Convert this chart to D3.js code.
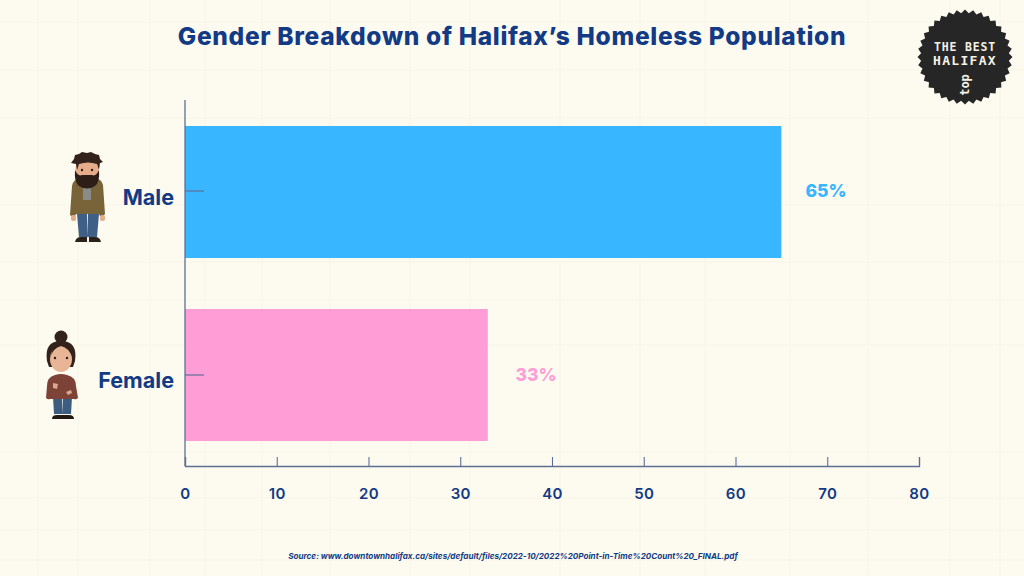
<!DOCTYPE html>
<html><head><meta charset="utf-8">
<script src="https://cdn.jsdelivr.net/npm/d3@7/dist/d3.min.js"></script>
<style>html,body{margin:0;padding:0;background:#fdfbef}svg{display:block}text{font-family:Inter,sans-serif}</style>
</head><body><svg id="c" width="1024" height="576"></svg>
<script>
const categories=["Male","Female"];
const values=[65,33];
const valueLabels=["65%","33%"];
const barColors=["#38b6ff","#ff9ed6"];
const xTicks=[0,10,20,30,40,50,60,70,80];
const titleText="Gender Breakdown of Halifax\u2019s Homeless Population";
const sourceText="Source: www.downtownhalifax.ca/sites/default/files/2022-10/2022%20Point-in-Time%20Count%20_FINAL.pdf";
const navy="#123a85", axisCol="#5d6f96";

const svg=d3.select("#c");
svg.append("rect").attr("width",1024).attr("height",576).attr("fill","#fdfbef");
// paper texture
const vLines=[38,78,150,205,262,330,410,470,560,640,705,790,868,950,1000];
const hLines=[22,70,118,205,262,300,345,452,498,530,560];
svg.append("g").selectAll("line").data(vLines).join("line").attr("x1",d=>d).attr("x2",d=>d).attr("y1",0).attr("y2",576).attr("stroke","#f9f7e8").attr("stroke-width",1.5);
svg.append("g").selectAll("line").data(hLines).join("line").attr("y1",d=>d).attr("y2",d=>d).attr("x1",0).attr("x2",1024).attr("stroke","#f9f7e8").attr("stroke-width",1.5);

const x=d3.scaleLinear().domain([0,80]).range([185,919]);
const y=d3.scaleBand().domain(categories).range([100.5,466.5]).paddingInner(0.2787).paddingOuter(0.1393);

svg.append("text").attr("x",512).attr("y",45).attr("text-anchor","middle").attr("font-size",24.5).attr("font-weight",800).attr("fill",navy).attr("letter-spacing",0.69).text(titleText);

svg.append("g").selectAll("rect").data(categories).join("rect")
 .attr("x",x(0)).attr("y",d=>y(d)).attr("width",(d,i)=>x(values[i])-x(0)).attr("height",y.bandwidth()).attr("fill",(d,i)=>barColors[i]);

// axes
const ax=d3.axisBottom(x).tickValues(xTicks).tickSize(-9).tickPadding(22).tickFormat(d3.format("d"));
const gx=svg.append("g").attr("transform","translate(0,466)").call(ax);
gx.select(".domain").attr("stroke",axisCol).attr("stroke-width",1.3);
gx.selectAll(".tick line").attr("stroke",axisCol).attr("stroke-width",1.1);
gx.selectAll("text").attr("fill",navy).attr("font-size",15).attr("font-weight",600).attr("font-family","Inter,sans-serif").attr("letter-spacing",0.4);

const yTickPos=[191,375];
svg.append("line").attr("x1",185).attr("x2",185).attr("y1",100).attr("y2",466).attr("stroke",axisCol).attr("stroke-width",1.3);
svg.append("g").selectAll("line").data(categories).join("line").attr("x1",185).attr("x2",204).attr("y1",(d,i)=>yTickPos[i]).attr("y2",(d,i)=>yTickPos[i]).attr("stroke",axisCol).attr("stroke-width",1.2);

const labelY=[205,388];
svg.append("g").selectAll("text").data(categories).join("text").attr("x",174).attr("y",(d,i)=>labelY[i]).attr("text-anchor","end").attr("font-size",21.6).attr("font-weight",700).attr("fill",navy).text(d=>d);

const valX=[826,536];
svg.append("g").selectAll("text").data(valueLabels).join("text").attr("x",(d,i)=>valX[i]).attr("y",(d,i)=>yTickPos[i]+6).attr("text-anchor","middle").attr("font-size",17.5).attr("font-weight",800).attr("fill",(d,i)=>barColors[i]).text(d=>d);

svg.append("text").attr("x",513).attr("y",559).attr("text-anchor","middle").attr("font-size",8.1).attr("font-style","italic").attr("font-weight",700).attr("fill",navy).text(sourceText);

// man illustration
const m=svg.append("g");
m.append("path").attr("d","M77 214h10l1 23h-9zM88 214h11l-2 23h-9z").attr("fill","#3f5f86");
m.append("path").attr("d","M75 242q1-5 6-5h6v5zM89 237h6q5 0 6 5H89z").attr("fill","#2b211c");
m.append("path").attr("d","M72 186q1-7 9-8h13q8 1 9 7l2 29q-2 3-5 2l-1-2H76l-1 2q-3 1-5-1z").attr("fill","#79643a");
m.append("rect").attr("x",83).attr("y",180).attr("width",8).attr("height",20).attr("fill","#8a8a86");
m.append("rect").attr("x",71).attr("y",215).attr("width",5).attr("height",6).attr("rx",2).attr("fill","#e3ad8b");
m.append("rect").attr("x",100).attr("y",215).attr("width",5).attr("height",6).attr("rx",2).attr("fill","#e3ad8b");
m.append("ellipse").attr("cx",87).attr("cy",170).attr("rx",11.5).attr("ry",12).attr("fill","#e6ad8a");
m.append("path").attr("d","M75 170q3 7 7 5h10q4 2 7-5q1 12-4 16q-8 5-16 0q-5-4-4-16z").attr("fill","#2e1e18");
m.append("path").attr("d","M71 163l3-4 1-4 4-1 3-2 5 1 4-1 4 2 4 1 1 4 3 3-3 1-1 7-2-6q-9-3-18 0l-2 6-1-6z").attr("fill","#33221c");
m.append("circle").attr("cx",82).attr("cy",170).attr("r",1.2).attr("fill","#2a1c16");
m.append("circle").attr("cx",92).attr("cy",170).attr("r",1.2).attr("fill","#2a1c16");

// woman illustration
const w=svg.append("g");
w.append("path").attr("d","M53 397h9l1 17h-9zM63 397h9l-1 17h-8z").attr("fill","#3c5c80");
w.append("path").attr("d","M52 419q0-4 5-4h6v4zM63 415h6q5 0 5 4H63z").attr("fill","#231a16");
w.append("path").attr("d","M47 386q0-9 8-11q6-2 12 0q9 2 9 11l2 12q-2 2-4 1H50q-2 1-4-1z").attr("fill","#7d4337");
w.append("circle").attr("cx",61).attr("cy",337).attr("r",6.5).attr("fill","#33211c");
w.append("path").attr("d","M47 361q-3-20 14-20q17 0 14 20l-2 6H49z").attr("fill","#33211c");
w.append("ellipse").attr("cx",61).attr("cy",359).attr("rx",11).attr("ry",13).attr("fill","#e9b597");
w.append("path").attr("d","M50 358q3-10 11-12q7 1 12 12q-3-14-11-14q-9 0-12 14z").attr("fill","#33211c");
w.append("circle").attr("cx",55).attr("cy",358).attr("r",1.2).attr("fill","#2a1c16");
w.append("circle").attr("cx",67).attr("cy",358).attr("r",1.2).attr("fill","#2a1c16");
w.append("path").attr("d","M53 383l5 1-1 5-4-1zM66 392l5-2 1 3-4 2z").attr("fill","#dba98f");

// badge
const n=36,cx=965,cy=57,pts=[];
d3.range(n*2).forEach(i=>{const r=i%2?44:47.5,a=i*Math.PI/n;pts.push([cx+r*Math.cos(a),cy+r*Math.sin(a)]);});
svg.append("polygon").attr("points",pts.join(" ")).attr("fill","#262626");
svg.append("text").attr("x",cx).attr("y",51).attr("text-anchor","middle").attr("font-size",11.5).attr("font-weight",700).attr("fill","#f5f2e6").attr("letter-spacing",.8).style("font-family","'DejaVu Sans Mono',monospace").text("THE BEST");
svg.append("text").attr("x",cx).attr("y",65).attr("text-anchor","middle").attr("font-size",13).attr("font-weight",700).attr("fill","#f5f2e6").attr("letter-spacing",1.3).style("font-family","'DejaVu Sans Mono',monospace").text("HALIFAX");
svg.append("text").attr("x",cx).attr("y",89).attr("text-anchor","middle").attr("font-size",12).attr("font-weight",700).attr("fill","#f5f2e6").attr("transform",`rotate(-90 ${cx} 85)`).style("font-family","'DejaVu Sans Mono',monospace").text("top");
</script></body></html>
